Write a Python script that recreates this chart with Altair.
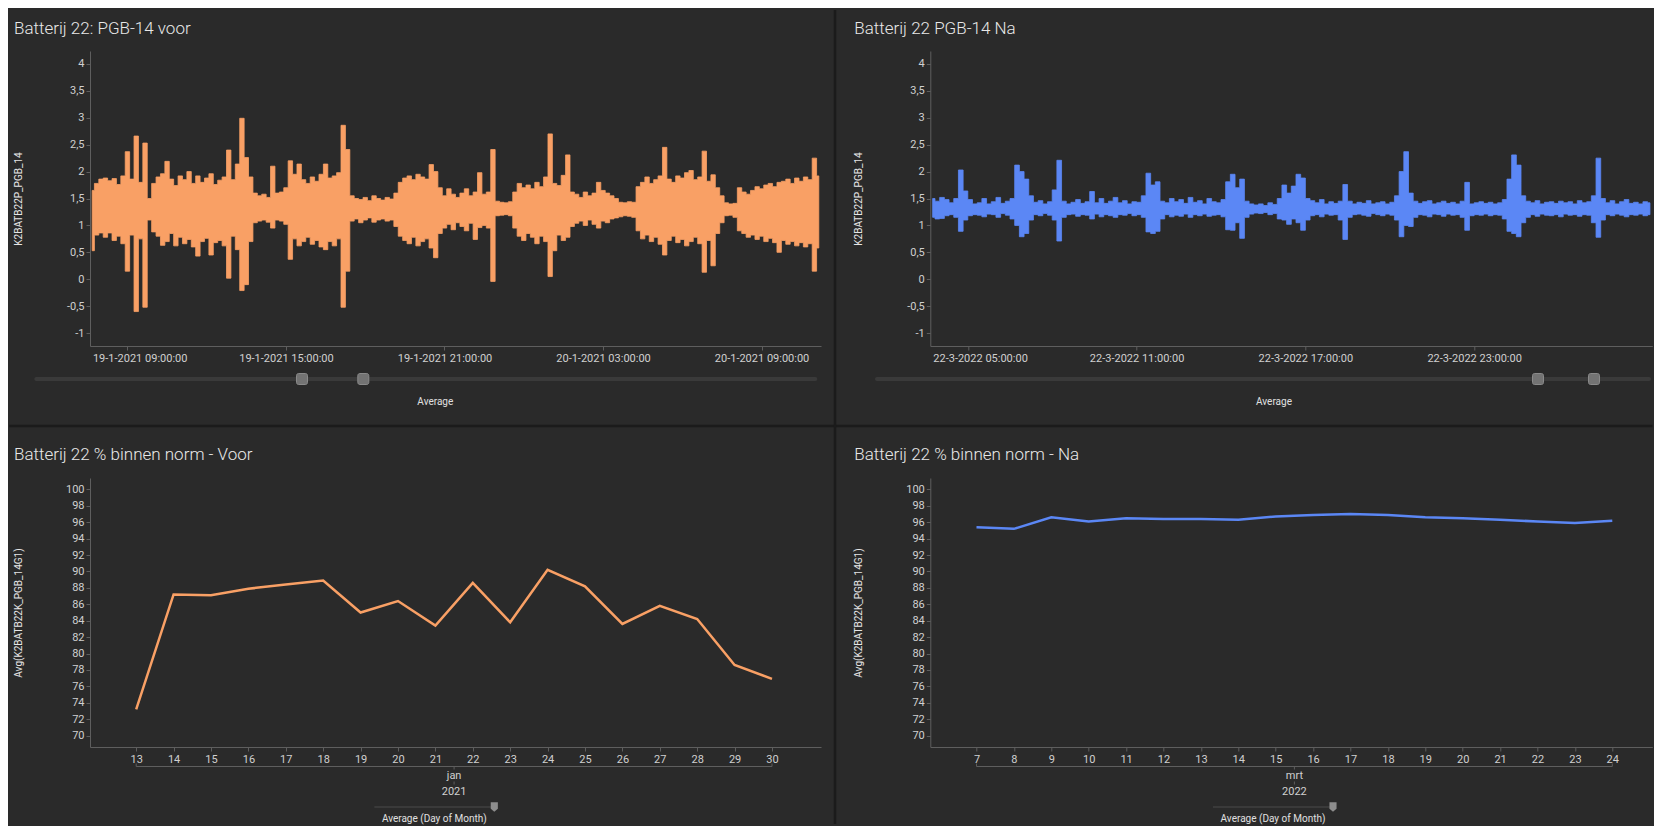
import altair as alt
import pandas as pd

# ------------------------------------------------------------------ data
STEP_MIN = 10
VOOR_START = "2021-01-19 07:35:00"
NA_START = "2022-03-22 03:40:00"

# envelope (min / max per 10-minute bin)
VOOR_HIGH = [
    1.65, 1.78, 1.86, 1.88, 1.83, 1.87, 1.76, 1.92, 2.37, 1.86,
    2.66, 1.80, 2.53, 1.50, 1.78, 1.90, 1.96, 2.19, 1.86, 1.74,
    1.92, 1.85, 2.00, 1.78, 1.92, 1.80, 1.88, 1.96, 1.76, 1.84,
    1.90, 2.40, 1.85, 2.14, 2.99, 2.26, 1.90, 1.60, 1.55, 1.58,
    1.52, 2.10, 1.60, 1.62, 1.70, 2.20, 1.95, 2.14, 1.85, 1.78,
    1.90, 1.82, 1.95, 2.14, 1.88, 1.92, 1.98, 2.86, 2.41, 1.55,
    1.50, 1.48, 1.52, 1.46, 1.55, 1.50, 1.47, 1.52, 1.49, 1.60,
    1.80, 1.88, 1.92, 1.85, 1.95, 1.90, 1.86, 2.13, 2.00, 1.70,
    1.55, 1.68, 1.58, 1.52, 1.60, 1.68, 1.55, 1.62, 1.98, 1.58,
    1.62, 2.41, 1.45, 1.43, 1.42, 1.44, 1.62, 1.78, 1.70, 1.75,
    1.68, 1.80, 1.72, 1.90, 2.70, 1.78, 1.74, 1.93, 2.31, 1.62,
    1.58, 1.52, 1.62, 1.55, 1.60, 1.80, 1.65, 1.60, 1.55, 1.50,
    1.43, 1.42, 1.44, 1.43, 1.72, 1.80, 1.90, 1.78, 1.85, 1.92,
    2.45, 1.86, 1.80, 1.92, 1.88, 1.98, 2.02, 1.85, 1.90, 2.38,
    1.82, 1.94, 1.70, 1.55, 1.42, 1.40, 1.41, 1.70, 1.62, 1.58,
    1.65, 1.72, 1.68, 1.75, 1.78, 1.72, 1.80, 1.82, 1.86, 1.78,
    1.88, 1.82, 1.90, 1.85, 2.25, 1.92,
]
VOOR_LOW = [
    0.53, 0.82, 0.86, 0.78, 0.86, 0.72, 0.80, 0.66, 0.15, 0.82,
    -0.60, 0.75, -0.52, 1.10, 0.88, 0.80, 0.63, 0.70, 0.85, 0.62,
    0.78, 0.66, 0.74, 0.60, 0.43, 0.70, 0.76, 0.45, 0.68, 0.72,
    0.62, 0.02, 0.80, 0.55, -0.21, -0.10, 0.70, 1.05, 1.08, 1.10,
    1.06, 0.95, 1.10, 1.08, 1.02, 0.37, 0.75, 0.62, 0.70, 0.78,
    0.65, 0.72, 0.60, 0.55, 0.70, 0.62, 0.75, -0.52, 0.15, 1.08,
    1.12, 1.05, 1.10, 1.14, 1.06, 1.10, 1.12, 1.08, 1.10, 0.98,
    0.80, 0.72, 0.66, 0.78, 0.62, 0.70, 0.75, 0.58, 0.40, 0.85,
    0.95, 1.02, 0.92, 1.05, 0.98, 0.90, 1.04, 0.74, 0.96, 1.00,
    0.95, -0.04, 1.18, 1.19, 1.20, 1.18, 0.95, 0.80, 0.72, 0.85,
    0.78, 0.66, 0.80, 0.70, 0.05, 0.53, 0.82, 0.72, 0.78, 0.98,
    1.04, 1.08, 1.00, 1.10, 1.02, 0.95, 1.08, 1.05, 1.12, 1.14,
    1.16, 1.18, 1.17, 1.15, 0.90, 0.75, 0.82, 0.70, 0.78, 0.65,
    0.45, 0.72, 0.80, 0.68, 0.74, 0.62, 0.70, 0.78, 0.66, 0.13,
    0.72, 0.25, 0.85, 1.05, 1.18, 1.19, 1.15, 0.90, 0.85, 0.78,
    0.82, 0.74, 0.80, 0.70, 0.76, 0.68, 0.50, 0.72, 0.65, 0.70,
    0.62, 0.68, 0.60, 0.66, 0.15, 0.58,
]
NA_HIGH = [
    1.50, 1.45, 1.52, 1.48, 1.42, 1.50, 2.03, 1.64, 1.48, 1.40,
    1.42, 1.50, 1.40, 1.44, 1.52, 1.41, 1.45, 1.50, 2.12, 2.00,
    1.86, 1.55, 1.43, 1.46, 1.40, 1.44, 1.66, 2.21, 1.45, 1.40,
    1.43, 1.48, 1.41, 1.44, 1.63, 1.42, 1.50, 1.41, 1.45, 1.52,
    1.42, 1.46, 1.40, 1.44, 1.43, 1.55, 1.97, 1.75, 1.81, 1.45,
    1.42, 1.50, 1.44, 1.48, 1.41, 1.52, 1.43, 1.46, 1.40, 1.50,
    1.44, 1.42, 1.48, 1.81, 1.95, 1.70, 1.86, 1.45, 1.40, 1.38,
    1.40, 1.37, 1.42, 1.39, 1.50, 1.75, 1.60, 1.73, 1.95, 1.88,
    1.50, 1.46, 1.42, 1.48, 1.40, 1.44, 1.41, 1.45, 1.76, 1.45,
    1.40, 1.43, 1.41, 1.46, 1.40, 1.42, 1.44, 1.40, 1.43, 1.55,
    2.00, 2.37, 1.60, 1.45, 1.41, 1.44, 1.46, 1.40, 1.42, 1.45,
    1.41, 1.43, 1.40, 1.45, 1.80, 1.40, 1.42, 1.44, 1.41, 1.43,
    1.40, 1.42, 1.48, 1.86, 2.31, 2.12, 1.55, 1.45, 1.42, 1.46,
    1.40, 1.43, 1.44, 1.41, 1.45, 1.42, 1.44, 1.40, 1.46, 1.42,
    1.44, 1.55, 2.25, 1.50, 1.42, 1.46, 1.40, 1.44, 1.48, 1.41,
    1.43, 1.40, 1.44, 1.42,
]
NA_LOW = [
    1.15, 1.12, 1.13, 1.18, 1.20, 1.15, 0.89, 1.10, 1.18, 1.20,
    1.19, 1.16, 1.21, 1.20, 1.15, 1.22, 1.19, 1.12, 1.00, 0.79,
    0.85, 1.10, 1.20, 1.18, 1.22, 1.19, 1.10, 0.71, 1.15, 1.20,
    1.21, 1.17, 1.20, 1.19, 1.12, 1.21, 1.16, 1.20, 1.18, 1.15,
    1.20, 1.19, 1.22, 1.18, 1.20, 1.15, 0.88, 0.85, 0.89, 1.12,
    1.20, 1.16, 1.19, 1.17, 1.21, 1.15, 1.20, 1.18, 1.21, 1.17,
    1.19, 1.20, 1.16, 0.92, 0.91, 1.05, 0.76, 1.15, 1.21, 1.23,
    1.22, 1.24, 1.20, 1.22, 1.12, 1.10, 1.02, 1.12, 1.05, 0.91,
    1.10, 1.18, 1.20, 1.16, 1.21, 1.19, 1.20, 1.10, 0.74, 1.15,
    1.20, 1.21, 1.19, 1.17, 1.22, 1.20, 1.18, 1.21, 1.19, 1.10,
    0.79, 1.00, 0.98, 1.15, 1.20, 1.19, 1.16, 1.21, 1.20, 1.17,
    1.21, 1.19, 1.20, 1.15, 0.91, 1.18, 1.20, 1.19, 1.21, 1.18,
    1.20, 1.19, 1.12, 0.89, 0.85, 0.79, 1.05, 1.15, 1.20, 1.17,
    1.21, 1.19, 1.18, 1.20, 1.16, 1.21, 1.19, 1.20, 1.17, 1.20,
    1.19, 1.05, 0.78, 1.10, 1.20, 1.18, 1.21, 1.19, 1.16, 1.20,
    1.19, 1.21, 1.18, 1.20,
]

VOOR_TICKS = [(2021, 1, 19, 9), (2021, 1, 19, 15), (2021, 1, 19, 21), (2021, 1, 20, 3), (2021, 1, 20, 9)]
NA_TICKS = [(2022, 3, 22, 5), (2022, 3, 22, 11), (2022, 3, 22, 17), (2022, 3, 22, 23)]
Y_TOP_TICKS = [-1, -0.5, 0, 0.5, 1, 1.5, 2, 2.5, 3, 3.5, 4]

VOOR_DAYS = list(range(13, 31))
VOOR_PCT = [73.2, 87.2, 87.1, 87.9, 88.4, 88.9, 85.0, 86.4, 83.4, 88.6,
            83.8, 90.2, 88.2, 83.6, 85.8, 84.2, 78.6, 76.9]
NA_DAYS = list(range(7, 25))
NA_PCT = [95.4, 95.2, 96.6, 96.1, 96.5, 96.4, 96.4, 96.3, 96.7, 96.9,
          97.0, 96.9, 96.6, 96.5, 96.3, 96.1, 95.9, 96.2]
Y_BOT_TICKS = list(range(70, 101, 2))

TITLES = ["Batterij 22: PGB-14 voor", "Batterij 22 PGB-14 Na",
          "Batterij 22 % binnen norm - Voor", "Batterij 22 % binnen norm - Na"]
Y_TITLE_TOP = "K2BATB22P_PGB_14"
Y_TITLE_BOT = "Avg(K2BATB22K_PGB_14G1)"
HIER = [("jan", "2021"), ("mrt", "2022")]

# ------------------------------------------------------------------ style
BG = "#2a2a2a"
ORANGE = "#f9a065"
BLUE = "#5b87f5"
AXC = "#5e5e5e"
TXT = "#d0d0d0"
TITLE_C = "#e8e8e8"
DIV = "#1b1b1b"
TRACK = "#3a3a3a"
FONT = "Roboto"

W_L, W_R = 731, 722
H_TOP, H_BOT = 295, 269
DECO = pd.DataFrame({"k": [0]})


def dt(ts):
    ts = pd.Timestamp(ts)
    return alt.DateTime(year=ts.year, month=ts.month, date=ts.day,
                        hours=ts.hour, minutes=ts.minute)


def text(txt, x, y, size=10, color=TXT, weight=400, align="center", baseline="middle"):
    return alt.Chart(DECO).mark_text(
        text=txt, fontSize=size, font=FONT, color=color, fontWeight=weight,
        align=align, baseline=baseline).encode(x=alt.value(x), y=alt.value(y))


def hrule(x1, x2, y, color, sw, cap="butt"):
    return alt.Chart(DECO).mark_rule(color=color, strokeWidth=sw, strokeCap=cap).encode(
        x=alt.value(x1), x2=alt.value(x2), y=alt.value(y))


def vrule(x, y1, y2, color, sw):
    return alt.Chart(DECO).mark_rule(color=color, strokeWidth=sw).encode(
        x=alt.value(x), y=alt.value(y1), y2=alt.value(y2))


def handle(xc, yc):
    return alt.Chart(DECO).mark_rect(color="#737373", stroke="#8a8a8a", strokeWidth=1,
                                     cornerRadius=2).encode(
        x=alt.value(xc - 5.5), x2=alt.value(xc + 5.5),
        y=alt.value(yc - 5.5), y2=alt.value(yc + 5.5))


def top_panel(start, high, low, color, ticks, width, title, track, handles, avg_x, extra):
    t0 = pd.Timestamp(start)
    n = len(high)
    df = pd.DataFrame({
        "t": [t0 + pd.Timedelta(minutes=STEP_MIN * (i + 0.5)) for i in range(n)],
        "hi": high, "lo": low})
    t_end = t0 + pd.Timedelta(minutes=STEP_MIN * n)
    band = alt.Chart(df).mark_area(color=color, interpolate="step", opacity=1,
                                   stroke=color, strokeWidth=0.8).encode(
        x=alt.X("t:T", scale=alt.Scale(domain=[dt(t0), dt(t_end)]),
                axis=alt.Axis(values=[alt.DateTime(year=a, month=b, date=c, hours=d) for a, b, c, d in ticks],
                              format="%-d-%-m-%Y %H:%M:%S", formatType="time", title=None,
                              labelFlush=40, labelFlushOffset=35, labelOverlap=False)),
        y=alt.Y("lo:Q", scale=alt.Scale(domain=[-1.24, 4.24], nice=False, zero=False),
                axis=alt.Axis(values=Y_TOP_TICKS, labelExpr="replace(toString(datum.value), '.', ',')",
                              title=Y_TITLE_TOP, titleX=-72, titleY=H_TOP / 2, titleAngle=270,
                              titleAlign="center", titleBaseline="middle")),
        y2="hi:Q")
    layers = [band,
              text(title, -76, -17, size=17, color=TITLE_C, weight=300, align="left", baseline="alphabetic"),
              hrule(track[0], track[1], 328, TRACK, 4, "round"),
              handle(handles[0], 328), handle(handles[1], 328),
              text("Average", avg_x, 351, size=10, color="#e0e0e0")] + extra
    return alt.layer(*layers).properties(width=width, height=H_TOP)


def bottom_panel(days, vals, color, width, title, hier, track, avg_x, extra):
    df = pd.DataFrame({"day": days, "v": vals})
    d0, d1 = min(days), max(days)
    pad = 1.235
    xs = alt.Scale(domain=[d0 - pad, d0 - pad + width / 37.4], nice=False, zero=False)
    xax = alt.Axis(values=days, format="d", title=None, labelFlush=False, labelOverlap=False)
    line = alt.Chart(df).mark_line(color=color, strokeWidth=2.5).encode(
        x=alt.X("day:Q", scale=xs, axis=xax),
        y=alt.Y("v:Q", scale=alt.Scale(domain=[68.6, 101.4], nice=False, zero=False),
                axis=alt.Axis(values=Y_BOT_TICKS, format="d", title=Y_TITLE_BOT, titleX=-72,
                              titleY=H_BOT / 2, titleAngle=270, titleAlign="center",
                              titleBaseline="middle")))
    ends = pd.DataFrame({"d": [d0, d1]})
    mid = pd.DataFrame({"m": [(d0 + d1) / 2], "a": [d0], "b": [d1]})
    bracket = alt.Chart(mid).mark_rule(color=AXC, strokeWidth=1).encode(
        x=alt.X("a:Q", scale=xs, axis=xax), x2="b:Q", y=alt.value(288.5))
    end_ticks = alt.Chart(ends).mark_rule(color=AXC, strokeWidth=1).encode(
        x=alt.X("d:Q", scale=xs, axis=xax), y=alt.value(285.5), y2=alt.value(288.5))
    mid_t1 = alt.Chart(mid).mark_rule(color=AXC, strokeWidth=1).encode(
        x=alt.X("m:Q", scale=xs, axis=xax), y=alt.value(288.5), y2=alt.value(291.5))
    mid_t2 = alt.Chart(mid).mark_rule(color=AXC, strokeWidth=1).encode(
        x=alt.X("m:Q", scale=xs, axis=xax), y=alt.value(303.5), y2=alt.value(306.5))
    month = alt.Chart(mid).mark_text(text=hier[0], font=FONT, fontSize=11, color=TXT,
                                     baseline="middle").encode(
        x=alt.X("m:Q", scale=xs, axis=xax), y=alt.value(297.5))
    year = alt.Chart(mid).mark_text(text=hier[1], font=FONT, fontSize=11, color=TXT,
                                    baseline="middle").encode(
        x=alt.X("m:Q", scale=xs, axis=xax), y=alt.value(313.5))
    knob = alt.Chart(DECO).mark_point(
        shape="M-0.75,-1L0.75,-1L0.75,0.35L0,1L-0.75,0.35Z", filled=True, opacity=1,
        color="#8d8d8d", size=90).encode(x=alt.value(track[1]), y=alt.value(329))
    layers = [line, bracket, end_ticks, mid_t1, mid_t2, month, year,
              text(title, -76, -18, size=17, color=TITLE_C, weight=300, align="left", baseline="alphabetic"),
              hrule(track[0], track[1], 329, TRACK, 2),
              knob,
              text("Average (Day of Month)", avg_x, 341, size=10, color="#e0e0e0")] + extra
    return alt.layer(*layers).properties(width=width, height=H_BOT)


tl = top_panel(VOOR_START, VOOR_HIGH, VOOR_LOW, ORANGE, VOOR_TICKS, W_L, TITLES[0],
               (-53.7, 725.3), (212, 273.3), 345.3,
               [hrule(-80.7, 1562.6, 375, DIV, 2.5)])
tr = top_panel(NA_START, NA_HIGH, NA_LOW, BLUE, NA_TICKS, W_R, TITLES[1],
               (-53.3, 718.7), (607.7, 663.7), 343.7,
               [vrule(-95.3, -41, 773, DIV, 2.5)])
bl = bottom_panel(VOOR_DAYS, VOOR_PCT, ORANGE, W_L, TITLES[2], HIER[0], (284.3, 404.3), 344.3, [])
br = bottom_panel(NA_DAYS, NA_PCT, BLUE, W_R, TITLES[3], HIER[1], (282.7, 402.7), 342.7, [])

chart = alt.concat(tl, tr, bl, br, columns=2, bounds="flush",
                   spacing={"row": 132, "column": 109.3}).properties(
    padding=0, background=BG
).configure_view(stroke=None).configure_axis(
    domainColor=AXC, tickColor=AXC, labelColor=TXT, labelFont=FONT, labelFontSize=11,
    titleColor="#e6e6e6", titleFont=FONT, titleFontSize=10, titleFontWeight="normal",
    grid=False, tickSize=4, labelPadding=2, domainWidth=1, tickWidth=1
)

chart.save("out.html", embed_options={"renderer": "svg", "actions": False})
